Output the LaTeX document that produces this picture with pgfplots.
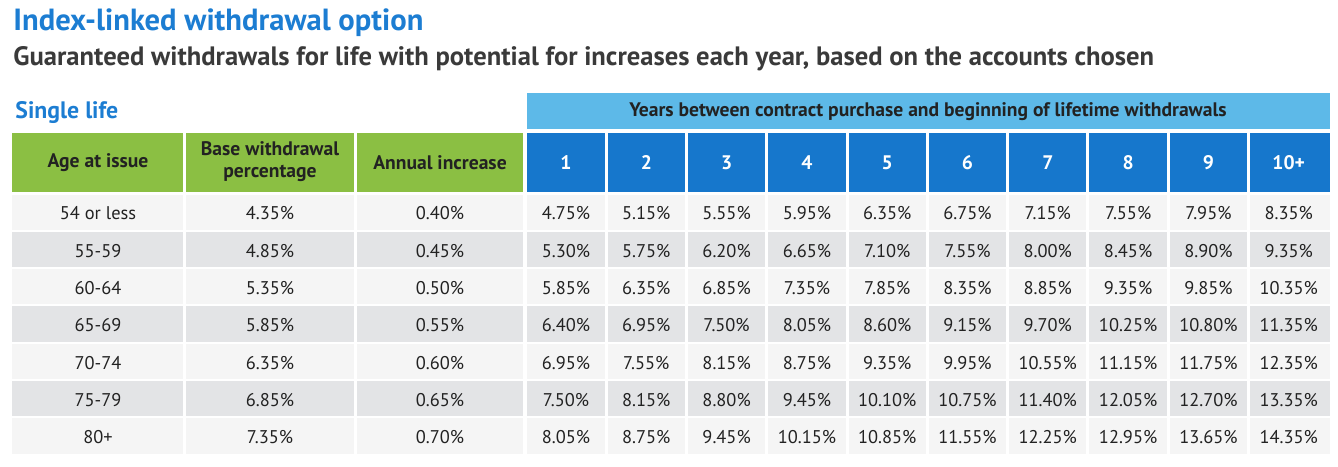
\documentclass[border=0pt]{standalone}
\usepackage{pgfplots}
\pgfplotsset{compat=1.18}
\usepackage{pgfplotstable}
\usepackage{fontspec}
\setmainfont{PT Sans}
\definecolor{titleblue}{RGB}{28,125,210}
\definecolor{subgray}{RGB}{58,58,58}
\definecolor{hgreen}{RGB}{139,191,67}
\definecolor{hblue}{RGB}{22,119,204}
\definecolor{lblue}{RGB}{93,185,232}
\definecolor{rowlight}{RGB}{245,245,245}
\definecolor{rowgray}{RGB}{227,228,230}
\definecolor{celltext}{RGB}{34,34,34}

\pgfplotstableread{
row age base inc y1 y2 y3 y4 y5 y6 y7 y8 y9 y10
1 {54 or less} 4.35 0.40 4.75 5.15 5.55 5.95 6.35 6.75 7.15 7.55 7.95 8.35
2 {55-59} 4.85 0.45 5.30 5.75 6.20 6.65 7.10 7.55 8.00 8.45 8.90 9.35
3 {60-64} 5.35 0.50 5.85 6.35 6.85 7.35 7.85 8.35 8.85 9.35 9.85 10.35
4 {65-69} 5.85 0.55 6.40 6.95 7.50 8.05 8.60 9.15 9.70 10.25 10.80 11.35
5 {70-74} 6.35 0.60 6.95 7.55 8.15 8.75 9.35 9.95 10.55 11.15 11.75 12.35
6 {75-79} 6.85 0.65 7.50 8.15 8.80 9.45 10.10 10.75 11.40 12.05 12.70 13.35
7 {80+} 7.35 0.70 8.05 8.75 9.45 10.15 10.85 11.55 12.25 12.95 13.65 14.35
}\data

\newcommand{\cellfont}{\fontsize{9.2pt}{10pt}\selectfont}
\newcommand{\headfont}{\fontsize{9.8pt}{11pt}\selectfont\bfseries}

\begin{document}
\begin{tikzpicture}
\begin{axis}[
  scale only axis, width=669pt, height=233pt,
  xmin=0, xmax=1338, ymin=0, ymax=466, y dir=reverse,
  hide axis, clip=false,
  /pgf/number format/assume math mode=true,
  every node near coord/.style={anchor=center, text=celltext, font=\cellfont},
]
\path (axis cs:0,0) rectangle (axis cs:1338,466);
% row backgrounds
\pgfplotsinvokeforeach{1,3,5,7}{
  \fill[rowlight] (axis cs:12,{194.5+37.3*(#1-1)}) rectangle (axis cs:1330,{229.8+37.3*(#1-1)});
}
\pgfplotsinvokeforeach{2,4,6}{
  \fill[rowgray] (axis cs:12,{194.5+37.3*(#1-1)}) rectangle (axis cs:1330,{229.8+37.3*(#1-1)});
}
% header backgrounds
\fill[hgreen] (axis cs:12,133) rectangle (axis cs:523.5,192);
\fill[hblue] (axis cs:526.5,133) rectangle (axis cs:1330,192);
\fill[lblue] (axis cs:526.5,93) rectangle (axis cs:1330,128.5);
% white column gaps
\pgfplotsinvokeforeach{184.5,355.5,525}{
  \draw[white, line width=1.7pt] (axis cs:#1,131) -- (axis cs:#1,456);
}
\pgfplotsinvokeforeach{1,...,9}{
  \draw[white, line width=1.5pt] (axis cs:{606.15+80.3*(#1-1)},131) -- (axis cs:{606.15+80.3*(#1-1)},456);
}
% titles
\node[anchor=west, text=titleblue, font=\fontsize{15.3pt}{17pt}\selectfont\bfseries, inner sep=0pt] at (axis cs:13,23) {Index-linked withdrawal option};
\node[anchor=west, text=subgray, font=\fontsize{13.3pt}{15pt}\selectfont\bfseries, inner sep=0pt] at (axis cs:13,58.5) {Guaranteed withdrawals for life with potential for increases each year, based on the accounts chosen};
\node[anchor=west, text=titleblue, font=\fontsize{11.9pt}{13pt}\selectfont\bfseries, inner sep=0pt] at (axis cs:15,113) {Single life};
% header texts
\node[font=\headfont, text=celltext] at (axis cs:928,112) {Years between contract purchase and beginning of lifetime withdrawals};
\node[font=\headfont, text=celltext] at (axis cs:98,163) {Age at issue};
\node[font=\headfont, text=celltext, align=center] at (axis cs:270,162) {Base withdrawal\\percentage};
\node[font=\headfont, text=celltext] at (axis cs:440,163) {Annual increase};
\pgfplotsinvokeforeach{1,...,9}{
  \node[font=\headfont, text=white] at (axis cs:{566+80.3*(#1-1)},163) {#1};
}
\node[font=\headfont, text=white] at (axis cs:1288.7,163) {10+};
% data
\addplot[draw=none, mark=none, nodes near coords, point meta=explicit symbolic]
  table[x expr={98}, y expr={213.5+37.3*(\thisrow{row}-1)}, meta=age] {\data};
\addplot[draw=none, mark=none, point meta=explicit,
  nodes near coords={\pgfmathprintnumber[fixed,fixed zerofill,precision=2]{\pgfplotspointmeta}\%}]
  table[x expr={270}, y expr={213.5+37.3*(\thisrow{row}-1)}, meta=base] {\data};
\addplot[draw=none, mark=none, point meta=explicit,
  nodes near coords={\pgfmathprintnumber[fixed,fixed zerofill,precision=2]{\pgfplotspointmeta}\%}]
  table[x expr={440}, y expr={213.5+37.3*(\thisrow{row}-1)}, meta=inc] {\data};
\pgfplotsinvokeforeach{1,...,10}{
  \addplot[draw=none, mark=none, point meta=explicit,
    nodes near coords={\pgfmathprintnumber[fixed,fixed zerofill,precision=2]{\pgfplotspointmeta}\%}]
    table[x expr={566+80.3*(#1-1)}, y expr={213.5+37.3*(\thisrow{row}-1)}, meta=y#1] {\data};
}
\end{axis}
\end{tikzpicture}
\end{document}
